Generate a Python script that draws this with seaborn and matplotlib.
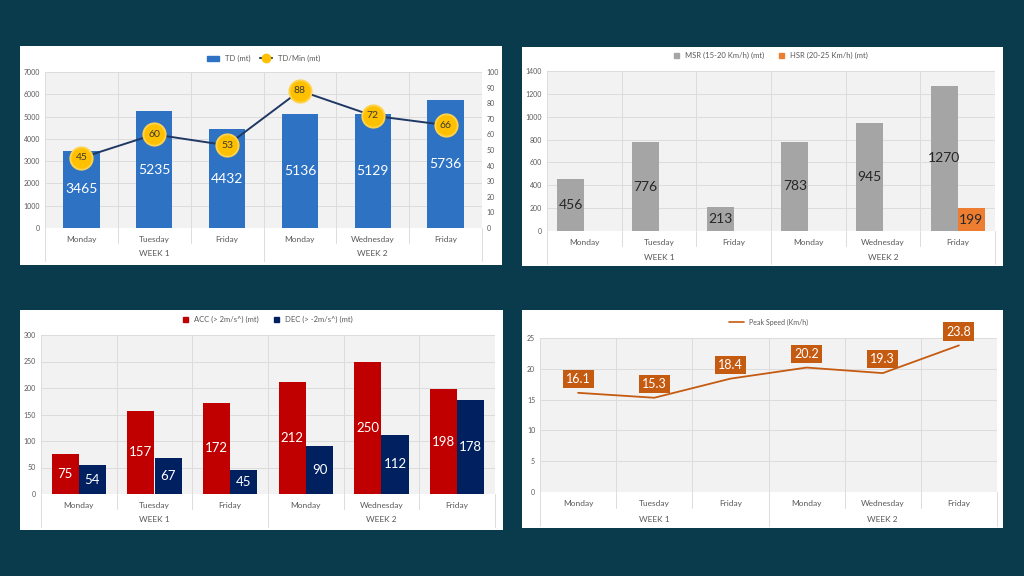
import numpy as np
import pandas as pd
import seaborn as sns
import matplotlib.pyplot as plt
from matplotlib.patches import Rectangle
from matplotlib.lines import Line2D

# data
days = ["Monday", "Tuesday", "Friday", "Monday", "Wednesday", "Friday"]
weeks = ["WEEK 1", "WEEK 1", "WEEK 1", "WEEK 2", "WEEK 2", "WEEK 2"]
sessions = [f"{w} {d}" for w, d in zip(weeks, days)]

td = [3465, 5235, 4432, 5136, 5129, 5736]
td_min = [45, 60, 53, 88, 72, 66]
msr = [456, 776, 213, 783, 945, 1270]
hsr = [0, 0, 0, 0, 0, 199]
acc = [75, 157, 172, 212, 250, 198]
dec = [54, 67, 45, 90, 112, 178]
peak_speed = [16.1, 15.3, 18.4, 20.2, 19.3, 23.8]

W, H = 1024, 576
BG = "#0a3b4c"
TICK = "#595959"


def panel(fig, x0, y0, x1, y1):
    """white card behind a chart, pixel coords from top-left"""
    fig.add_artist(Rectangle((x0 / W, 1 - y1 / H), (x1 - x0) / W, (y1 - y0) / H,
                             transform=fig.transFigure, facecolor="white",
                             edgecolor="none", zorder=0))


def make_ax(fig, x0, y0, x1, y1):
    return fig.add_axes([x0 / W, 1 - y1 / H, (x1 - x0) / W, (y1 - y0) / H])


def style_ax(ax, ymax, step, inner_px, outer_px, week_px, ax_h):
    ax.set_facecolor("#f2f2f2")
    ax.set_xlim(-0.5, len(days) - 0.5)
    ax.set_ylim(0, ymax)
    ax.set_yticks(np.arange(0, ymax + step, step))
    ax.set_xticks(range(len(days)))
    ax.set_xticklabels(days)
    ax.set_xticks(np.arange(-0.5, len(days), 1), minor=True)
    ax.grid(axis="y", color="#dcdcdc", linewidth=0.7)
    ax.grid(axis="x", which="minor", color="#dcdcdc", linewidth=0.7)
    ax.grid(axis="x", which="major", visible=False)
    ax.set_axisbelow(True)
    for s in ax.spines.values():
        s.set_visible(False)
    ax.tick_params(axis="both", which="both", length=0, colors=TICK)
    ax.tick_params(axis="y", labelsize=5)
    ax.tick_params(axis="x", labelsize=6, pad=6)
    ax.set_xlabel("")
    ax.set_ylabel("")

    # category / week separators under the plot area
    trans = ax.get_xaxis_transform()
    for b in np.arange(-0.5, len(days), 1):
        depth = outer_px if b in (-0.5, 2.5, len(days) - 0.5) else inner_px
        ax.plot([b, b], [0, -depth / ax_h], transform=trans, color="#dcdcdc",
                linewidth=0.7, clip_on=False)
    for i, w in enumerate(["WEEK 1", "WEEK 2"]):
        ax.text(1 + 3 * i, -week_px / ax_h, w, transform=trans, ha="center",
                va="center", fontsize=6, color=TICK)


def td_chart(fig):
    panel(fig, 20, 46, 502, 265)
    ax = make_ax(fig, 45, 72, 482, 228)
    sns.barplot(x=sessions, y=td, color="#2e72c4", width=0.5, saturation=1,
                linewidth=0, ax=ax)
    ax.bar_label(ax.containers[0], label_type="center", color="white", fontsize=10)
    style_ax(ax, 7000, 1000, 15, 33, 26, 156)

    ax2 = ax.twinx()
    sns.lineplot(x=np.arange(len(td_min)), y=td_min, color="#1f3864", linewidth=1.4,
                 marker="o", markersize=16, markerfacecolor="#ffc000",
                 markeredgecolor="#ffd24d", markeredgewidth=1.4, ax=ax2)
    for i, v in enumerate(td_min):
        ax2.text(i, v, str(v), ha="center", va="center", fontsize=7.5, color="#3a3a3a")
    ax2.set_ylim(0, 100)
    ax2.set_yticks(range(0, 101, 10))
    ax2.tick_params(length=0, labelsize=5, colors=TICK)
    for s in ax2.spines.values():
        s.set_visible(False)

    handles = [Rectangle((0, 0), 1, 1, color="#2e72c4"),
               Line2D([], [], color="#1f3864", marker="o", markersize=6,
                      markerfacecolor="#ffc000", markeredgecolor="#ffc000")]
    ax.legend(handles, ["TD (mt)", "TD/Min (mt)"], loc="lower center",
              bbox_to_anchor=(0.5, 1.02), ncol=2, frameon=False, fontsize=5.5,
              handlelength=1.6, handleheight=0.6, columnspacing=1.2,
              labelcolor=TICK)


def speed_zone_chart(fig):
    panel(fig, 522, 47, 1003, 266)
    ax = make_ax(fig, 547, 71, 995, 231)
    df = pd.DataFrame({"session": sessions * 2,
                       "metric": ["MSR (15-20 Km/h) (mt)"] * 6 + ["HSR (20-25 Km/h) (mt)"] * 6,
                       "value": msr + hsr})
    sns.barplot(data=df, x="session", y="value", hue="metric",
                palette=["#a5a5a5", "#ed7d31"], width=0.72, saturation=1,
                linewidth=0, legend=False, ax=ax)
    for cont, vals in zip(ax.containers, [msr, hsr]):
        ax.bar_label(cont, labels=[str(v) if v else "" for v in vals],
                     label_type="center", color="#262626", fontsize=10)
    style_ax(ax, 1400, 200, 15, 33, 26, 160)
    handles = [Rectangle((0, 0), 1, 1, color=c) for c in ["#a5a5a5", "#ed7d31"]]
    ax.legend(handles, ["MSR (15-20 Km/h) (mt)", "HSR (20-25 Km/h) (mt)"],
              loc="lower center", bbox_to_anchor=(0.5, 1.03), ncol=2,
              frameon=False, fontsize=5.5, handlelength=0.6, handleheight=0.6,
              columnspacing=2.0, labelcolor=TICK)


def acc_dec_chart(fig):
    panel(fig, 20, 310, 503, 530)
    ax = make_ax(fig, 41, 335, 495, 494)
    df = pd.DataFrame({"session": sessions * 2,
                       "metric": ["ACC (> 2m/s^) (mt)"] * 6 + ["DEC (> -2m/s^) (mt)"] * 6,
                       "value": acc + dec})
    sns.barplot(data=df, x="session", y="value", hue="metric",
                palette=["#c00000", "#002060"], width=0.72, saturation=1,
                linewidth=0, legend=False, ax=ax)
    for cont in ax.containers:
        ax.bar_label(cont, label_type="center", color="white", fontsize=9.5)
    style_ax(ax, 300, 50, 15, 33, 26, 159)
    handles = [Rectangle((0, 0), 1, 1, color=c) for c in ["#c00000", "#002060"]]
    ax.legend(handles, ["ACC (> 2m/s^) (mt)", "DEC (> -2m/s^) (mt)"],
              loc="lower center", bbox_to_anchor=(0.5, 1.03), ncol=2,
              frameon=False, fontsize=5.5, handlelength=0.6, handleheight=0.6,
              columnspacing=2.0, labelcolor=TICK)


def peak_speed_chart(fig):
    panel(fig, 522, 310, 1003, 528)
    ax = make_ax(fig, 540, 338, 997, 492)
    sns.lineplot(x=np.arange(len(peak_speed)), y=peak_speed, color="#c55a11",
                 linewidth=1.3, ax=ax)
    for i, v in enumerate(peak_speed):
        ax.annotate(f"{v}", (i, v), xytext=(0, 10), textcoords="offset points",
                    ha="center", va="center", color="white", fontsize=9,
                    bbox=dict(boxstyle="square,pad=0.25", facecolor="#c55a11",
                              edgecolor="none"))
    style_ax(ax, 25, 5, 16, 34, 27, 154)
    ax.legend([Line2D([], [], color="#c55a11", linewidth=1.2)], ["Peak Speed (Km/h)"],
              loc="lower center", bbox_to_anchor=(0.5, 1.04), frameon=False,
              fontsize=5, handlelength=2.2, labelcolor=TICK)


def main():
    sns.set_theme(style="white")
    plt.rcParams["font.family"] = ["Lato", "DejaVu Sans"]
    fig = plt.figure(figsize=(W / 100, H / 100), dpi=100, facecolor=BG)
    td_chart(fig)
    speed_zone_chart(fig)
    acc_dec_chart(fig)
    peak_speed_chart(fig)
    fig.savefig("out.png", dpi=100, facecolor=BG)


if __name__ == "__main__":
    main()
